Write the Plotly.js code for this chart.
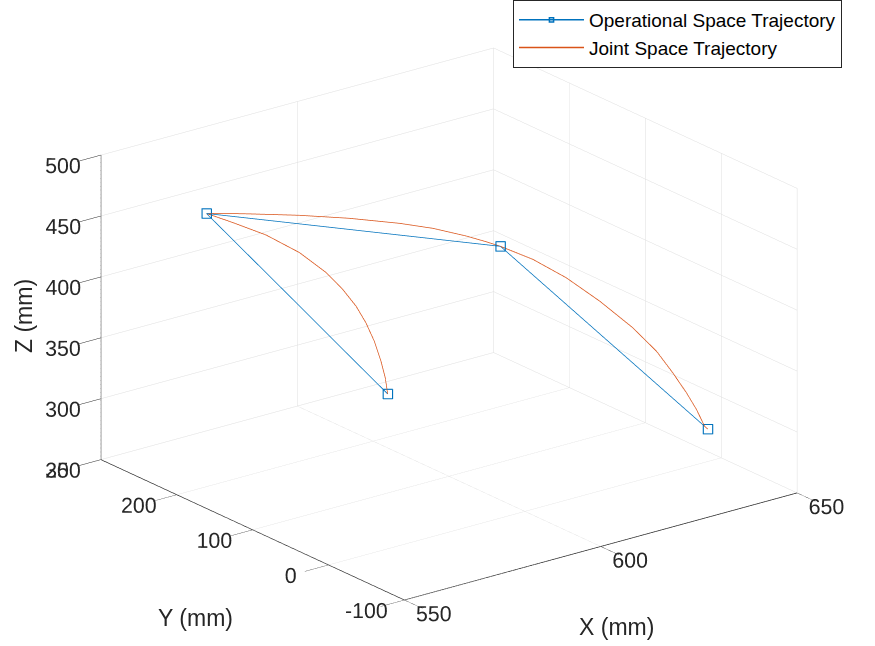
<!DOCTYPE html>
<html>
<head>
<meta charset="utf-8">
<script src="https://cdn.plot.ly/plotly-3.0.1.min.js"></script>
<style>
html,body{margin:0;padding:0;background:#fff;}
#plot{width:875px;height:646px;}
</style>
</head>
<body>
<div id="plot"></div>
<script>
// Operational space trajectory (waypoints), mm
const opX = [597.6, 567.8, 603.5, 636.7];
const opY = [168.4, 252.9, 50.3, -51.1];
const opZ = [300, 450, 450, 300];

// Joint space trajectory samples, mm
const jsX = [597.6, 597.2, 596.5, 595.4, 594.0, 592.4, 590.2, 587.5, 583.1, 577.6, 572.1, 567.8,
             570.9, 574.5, 582.0, 589.0, 595.3, 598.9, 601.6, 602.8, 603.5,
             608.7, 614.0, 619.4, 624.7, 628.5, 631.1, 633.3, 634.9, 636.2, 636.7];
const jsY = [168.4, 169.5, 171.5, 174.6, 178.5, 183.2, 189.4, 197.2, 209.6, 225.2, 240.8, 252.9,
             243.4, 231.3, 204.4, 174.5, 140.9, 115.7, 85.5, 65.6, 50.3,
             34.4, 18.0, 1.7, -14.6, -26.0, -34.1, -40.7, -45.6, -49.6, -51.1];
const jsZ = [300, 313.2, 326.9, 343.4, 358.7, 372.4, 386.3, 400.2, 416.9, 431.7, 442.3, 450,
             450, 450, 450, 450, 450, 450, 450, 450, 450,
             439.3, 424.3, 405.0, 383.1, 363.9, 346.1, 329.7, 316.0, 302.2, 300];

const xTicks = [550, 600, 650];
const yTicks = [-100, 0, 100, 200, 300];
const zTicks = [250, 300, 350, 400, 450, 500];

const FONT = 'Liberation Sans, Arial, Helvetica, sans-serif';
const blue = '#0072BD';
const orange = '#D95319';

const traces = [
  {
    type: 'scatter3d', mode: 'lines+markers', name: 'Operational Space Trajectory',
    x: opX, y: opY, z: opZ,
    line: {color: blue, width: 1.5},
    marker: {symbol: 'square-open', size: 4.2, color: blue, line: {color: blue, width: 1.5}}
  },
  {
    type: 'scatter3d', mode: 'lines', name: 'Joint Space Trajectory',
    x: jsX, y: jsY, z: jsZ,
    line: {color: orange, width: 1.5}
  }
];

function ax(range, ticks) {
  return {
    range: range, tickvals: ticks, ticktext: ticks.map(String),
    autorange: false,
    showbackground: false, showgrid: true, gridcolor: '#dedede', gridwidth: 1,
    zeroline: false, showline: true, linecolor: '#262626', linewidth: 1.5,
    ticks: 'outside', ticklen: 30, tickcolor: '#262626', tickwidth: 1, tickangle: 0,
    tickfont: {family: FONT, size: 16, color: '#262626'},
    showspikes: false,
    title: {text: ''}
  };
}

const L = 4;
const dir = [-0.569, -0.741, 0.355];
const S = 1.557;

const layout = {
  width: 875, height: 646,
  margin: {l: 0, r: 0, t: 0, b: 0},
  paper_bgcolor: '#fff',
  showlegend: true,
  legend: {
    x: 513 / 875, y: 1, xanchor: 'left', yanchor: 'top',
    bgcolor: '#fff', bordercolor: '#262626', borderwidth: 1,
    font: {family: FONT, size: 19, color: '#000'},
    itemwidth: 65, tracegroupgap: 0
  },
  scene: {
    domain: {x: [0.03, 0.997], y: [0.005, 0.99]},
    aspectmode: 'manual',
    aspectratio: {x: 1 * S, y: 1.0065 * S, z: 0.658 * S},
    xaxis: ax([550, 650], xTicks),
    yaxis: ax([-100, 300], yTicks),
    zaxis: ax([250, 500], zTicks),
    camera: {
      eye: {x: L * dir[0], y: L * dir[1], z: L * dir[2]},
      up: {x: 0, y: 0, z: 1},
      center: {x: 0, y: 0, z: 0},
      projection: {type: 'orthographic'}
    },
    dragmode: false
  },
  hovermode: false,
  annotations: [
    {xref: 'paper', yref: 'paper', x: 616.5 / 875, y: 1 - 627 / 646, text: 'X (mm)', showarrow: false,
     xanchor: 'center', yanchor: 'middle', font: {family: FONT, size: 23, color: '#262626'}},
    {xref: 'paper', yref: 'paper', x: 195 / 875, y: 1 - 618 / 646, text: 'Y (mm)', showarrow: false,
     xanchor: 'center', yanchor: 'middle', font: {family: FONT, size: 23, color: '#262626'}},
    {xref: 'paper', yref: 'paper', x: 24 / 875, y: 1 - 316 / 646, text: 'Z (mm)', showarrow: false, textangle: -90,
     xanchor: 'center', yanchor: 'middle', font: {family: FONT, size: 23, color: '#262626'}}
  ]
};

Plotly.newPlot('plot', traces, layout, {displayModeBar: false});
</script>
</body>
</html>
